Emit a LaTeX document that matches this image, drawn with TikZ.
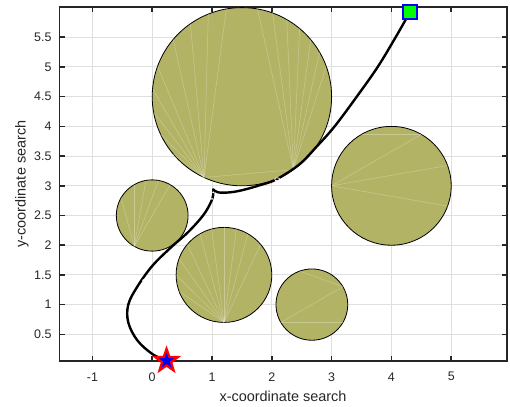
\documentclass[tikz,border=0pt]{standalone}
\usepackage{fontspec}
\setmainfont{Liberation Sans}
\usetikzlibrary{shapes.geometric,calc}
\definecolor{axcol}{RGB}{38,38,38}
\definecolor{gridcol}{RGB}{223,223,223}
\definecolor{obst}{RGB}{179,179,102}
\definecolor{goalgreen}{RGB}{0,255,0}
\tikzset{
  gridline/.style={draw=gridcol, line width=1bp},
  axisline/.style={draw=axcol, line width=1.6bp},
  ticklab/.style={text=axcol, font=\fontsize{12.5}{14}\selectfont, inner sep=0},
  axlab/.style={text=axcol, font=\fontsize{14.5}{16}\selectfont, inner sep=0},
  obstacle/.style={fill=obst, draw=black, line width=0.8bp},
  facet/.style={draw=white, opacity=0.3, line width=0.5bp},
  pathline/.style={draw=black, line width=2.4bp, line cap=round, line join=round},
  gapdot/.style={fill=white, draw=none},
}
\begin{document}
\begin{tikzpicture}[x=1bp,y=1bp]
\useasboundingbox (0,0) rectangle (510,406);
\node[axlab] (xlab) at (283,9.3) {x-coordinate search};
\node[axlab, rotate=90] (ylab) at (22,222) {y-coordinate search};
\begin{scope}[shift={(152.2bp,42bp)}, x=59.8bp, y=59.4bp]
  % grid
  \foreach \gx in {-1,0,...,5} \draw[gridline] (\gx,0.055) -- (\gx,6.005);
  \foreach \gy in {0.5,1.0,...,5.6} \draw[gridline] (-1.55,\gy) -- (5.928,\gy);
  % axes box
  \draw[axisline] (-1.55,0.055) rectangle (5.928,6.005);
  % ticks
  \foreach \gx in {-1,0,...,5} {
    \draw[axisline] (\gx,0.055) -- ++(0,5bp);
    \draw[axisline] (\gx,6.005) -- ++(0,-5bp);
    \node[ticklab] at (\gx,-0.214) {\gx};
  }
  \foreach \gy/\lab in {0.5/0.5,1/1,1.5/1.5,2/2,2.5/2.5,3/3,3.5/3.5,4/4,4.5/4.5,5/5,5.5/5.5} {
    \draw[axisline] (-1.55,\gy) -- ++(5bp,0);
    \draw[axisline] (5.928,\gy) -- ++(-5bp,0);
    \node[ticklab, anchor=east] at (-1.68,\gy) {\lab};
  }
  % obstacles
  \draw[obstacle] (1.5,4.5) circle (1.5);
  \draw[obstacle] (4,3) circle (1);
  \draw[obstacle] (0,2.5) circle (0.6);
  \draw[obstacle] (1.2,1.5) circle (0.8);
  \draw[obstacle] (2.67,1) circle (0.6);
  % faint facet lines
  \foreach \a in {100,112,125,140,160,175,190,205,220} \draw[facet] ($(1.5,4.5)+(245:1.5)$) -- ($(1.5,4.5)+(\a:1.5)$);
  \foreach \a in {20,30,40,50,60,70,80} \draw[facet] ($(1.5,4.5)+(-55:1.5)$) -- ($(1.5,4.5)+(\a:1.5)$);
  \draw[facet] ($(1.5,4.5)+(245:1.5)$) -- ($(1.5,4.5)+(-55:1.5)$);
  \foreach \a in {60,80,100,120,150} \draw[facet] ($(0,2.5)+(240:0.6)$) -- ($(0,2.5)+(\a:0.6)$);
  \foreach \a in {40,60,75,90,105,120,140,160,180,200} \draw[facet] ($(1.2,1.5)+(270:0.8)$) -- ($(1.2,1.5)+(\a:0.8)$);
  \draw[facet] ($(2.67,1)+(210:0.6)$) -- ($(2.67,1)+(30:0.6)$);
  \draw[facet] ($(2.67,1)+(110:0.6)$) -- ($(2.67,1)+(30:0.6)$);
  \draw[facet] ($(2.67,1)+(210:0.6)$) -- ($(2.67,1)+(-30:0.6)$);
  \draw[facet] ($(4,3)+(180:1)$) -- ($(4,3)+(60:1)$);
  \draw[facet] ($(4,3)+(180:1)$) -- ($(4,3)+(-20:1)$);
  \draw[facet] ($(4,3)+(180:1)$) -- ($(4,3)+(20:1)$);
  \draw[facet] ($(4,3)+(120:1)$) -- ($(4,3)+(60:1)$);
  % path
  \draw[pathline] plot[smooth, tension=0.6] coordinates {
    (0.24,0.055) (0.0,0.17) (-0.25,0.4) (-0.4,0.7) (-0.4,1.0) (-0.25,1.3)
    (0.0,1.65) (0.3,1.95) (0.6,2.22) (0.85,2.5) (0.98,2.72) (1.02,2.85) (1.02,2.94)};
  \draw[pathline] plot[smooth, tension=0.6] coordinates {
    (1.02,2.94) (1.1,2.89) (1.3,2.89) (1.52,2.93) (1.8,3.01) (2.08,3.11)
    (2.46,3.36) (2.75,3.66) (3.05,4.0) (3.42,4.5) (3.77,5.0) (4.07,5.5) (4.311,5.926)};
  \fill[gapdot] (-0.15,1.41) circle (1.1bp);
  \fill[gapdot] (1.0,2.78) circle (1.1bp);
  \fill[gapdot] (1.02,2.89) circle (1.1bp);
  \draw[white, line width=0.7bp] (2.09,3.11) ellipse (2.5bp and 1.5bp);
  % markers
  \node[star, star points=5, star point ratio=2.5, inner sep=0, minimum size=24bp,
        draw=red, fill=blue, line width=2.2bp] (start) at (0.24,0.055) {};
  \node[rectangle, inner sep=0, minimum size=14bp, draw=blue, fill=goalgreen,
        line width=2bp] (goal) at (4.311,5.926) {};
\end{scope}
\end{tikzpicture}
\end{document}
